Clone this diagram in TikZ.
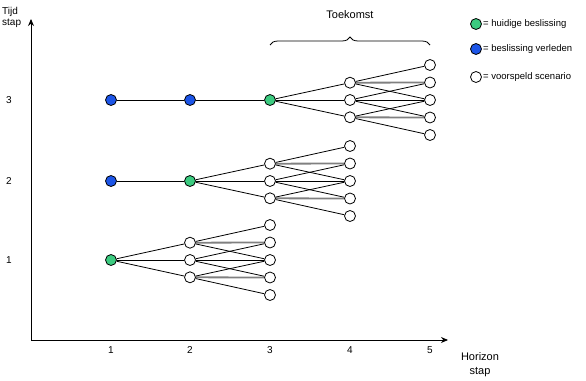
\documentclass[tikz,border=0pt]{standalone}
\usepackage{fontspec}
\setmainfont{Liberation Sans}
\usetikzlibrary{arrows.meta,decorations.pathreplacing}
\definecolor{cgreen}{HTML}{3CCB80}
\definecolor{cblue}{HTML}{1C55E8}
\tikzset{
  st/.style={circle,draw=black,line width=0.8pt,minimum size=11pt,inner sep=0pt},
  scen/.style={st,fill=white},
  cur/.style={st,fill=cgreen},
  past/.style={st,fill=cblue},
  edge/.style={draw=black,line width=0.8pt},
  gedge/.style={draw=black!50,line width=1.8pt},
  axis/.style={draw=black,line width=0.9pt,-{Stealth[length=7pt,width=6pt]}},
  lbl/.style={font=\fontsize{10}{11.5}\selectfont,inner sep=0pt},
  leg/.style={font=\fontsize{9.5}{11}\selectfont,inner sep=0pt,anchor=west},
}
\begin{document}
\begin{tikzpicture}[x=1pt,y=-1pt]
\useasboundingbox (0,0) rectangle (586,380);
% axes
\coordinate (O) at (31,340);
\coordinate (Ytop) at (31,19);
\coordinate (Xend) at (448,340);
\draw[axis] (O) -- (Ytop);
\draw[axis] (O) -- (Xend);
\node[lbl,align=left,anchor=north west] (ylab) at (2,7) {Tijd\\stap};
\node[lbl,align=center,font=\fontsize{11}{14}\selectfont] (xlab) at (480,365) {Horizon\\stap};
% tick labels
\foreach \i/\x in {1/111,2/190,3/270,4/350,5/430}
  \node[lbl] (xt\i) at (\x,350) {\i};
\foreach \i/\y in {1/260,2/181,3/100}
  \node[lbl] (yt\i) at (9,\y) {\i};
% decision nodes
\node[past] (p31) at (111,100) {};
\node[past] (p32) at (190,100) {};
\node[cur] (r3) at (270,100) {};
\node[past] (p21) at (111,181) {};
\node[cur] (r2) at (190,181) {};
\node[cur] (r1) at (111,260) {};
\draw[edge] (p31) -- (p32);
\draw[edge] (p32) -- (r3);
\draw[edge] (p21) -- (r2);
% scenario trees
\foreach \t/\mx/\ox/\c in {1/190/270/260, 2/270/350/181, 3/350/430/100}{
  \foreach \k in {1,2,3}
    \node[scen] (m\t-\k) at (\mx,{\c+(\k-2)*17.3}) {};
  \foreach \k in {1,...,5}
    \node[scen] (o\t-\k) at (\ox,{\c+(\k-3)*17.5}) {};
  \foreach \k in {1,2,3}
    \draw[edge] (r\t) -- (m\t-\k);
  \draw[gedge] (m\t-1) -- (o\t-2);
  \draw[gedge] (m\t-3) -- (o\t-4);
  \draw[edge] (m\t-2) -- (o\t-3);
  \foreach \k [evaluate=\k as \a using int(\k), evaluate=\k as \b using int(\k+2)] in {1,2,3}{
    \draw[edge] (m\t-\k) -- (o\t-\a);
    \draw[edge] (m\t-\k) -- (o\t-\b);
  }
}
% future brace
\coordinate (bl) at (270,45);
\coordinate (br) at (430,45);
\draw[line width=0.8pt,decorate,decoration={brace,amplitude=8pt}] (bl) -- (br);
\node[font=\fontsize{11}{13}\selectfont,inner sep=0pt] (fut) at (350,15) {Toekomst};
% legend
\node[cur] (lg1) at (476,24) {};
\node[past] (lg2) at (476,49) {};
\node[scen] (lg3) at (476,77) {};
\node[leg] (lt1) at (483,24) {= huidige beslissing};
\node[leg] (lt2) at (483,49) {= beslissing verleden};
\node[leg] (lt3) at (483,77) {= voorspeld scenario};
\end{tikzpicture}
\end{document}
